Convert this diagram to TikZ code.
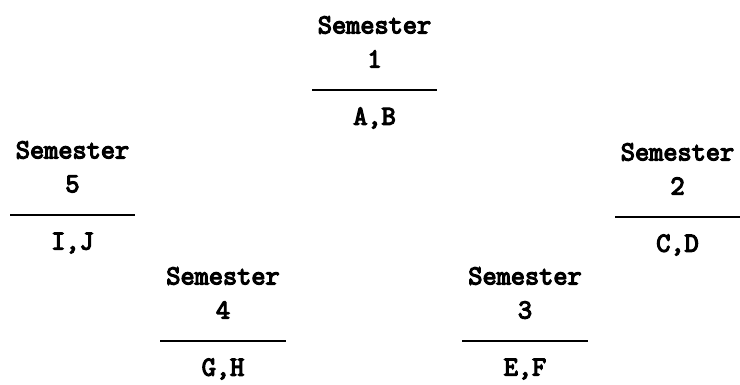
\documentclass[tikz,border=0pt]{standalone}
\usepackage{fontspec}
\newfontfamily\semfont{Latin Modern Mono}[FakeBold=4.5]
\begin{document}
\begin{tikzpicture}[x=1pt,y=-1pt,
  lbl/.style={font=\semfont\fontsize{27.5}{27.5}\selectfont, inner sep=0pt, anchor=center},
  bar/.style={line width=2.2pt}]
\useasboundingbox (0,0) rectangle (740,384);
\foreach \n/\cx/\ly/\hw/\ab in {1/374.5/90/62.5/{A,B}, 2/677.5/217/62.5/{C,D}, 3/525/341/63/{E,F}, 4/223/341/63/{G,H}, 5/72.5/215/62.5/{I,J}}{
  \node[lbl] (s\n) at (\cx,\ly-65) {Semester};
  \node[lbl] (n\n) at (\cx,\ly-31) {\n};
  \coordinate (l\n) at (\cx-\hw,\ly);
  \coordinate (r\n) at (\cx+\hw,\ly);
  \draw[bar] (l\n) -- (r\n);
  \node[lbl] (c\n) at (\cx,\ly+28) {\ab};
}
\end{tikzpicture}
\end{document}
